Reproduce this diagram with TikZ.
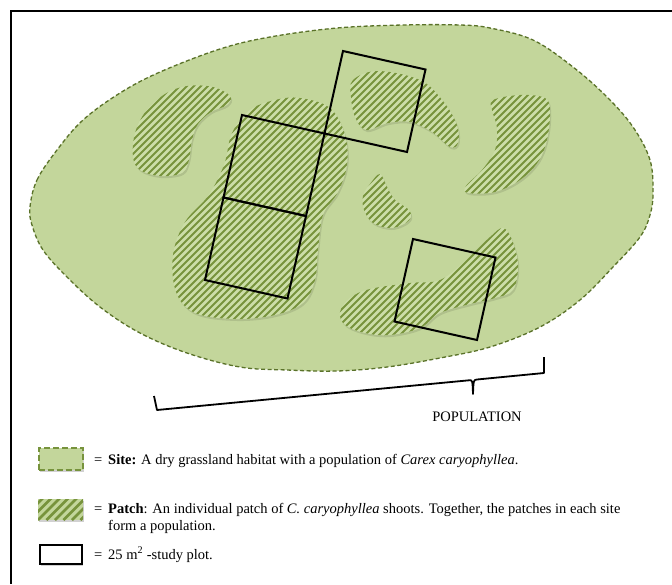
\documentclass[tikz,border=0pt]{standalone}
\usepackage{fontspec}
\setmainfont{Liberation Serif}
\definecolor{sitefill}{HTML}{C3D69B}
\definecolor{siteline}{HTML}{5A7229}
\definecolor{stripecol}{HTML}{77933C}
\definecolor{patchbg}{HTML}{CCDEA8}
\newcommand{\hatchpatch}[1]{%
  \fill[black, opacity=0.10, shift={(1.2,2)}] plot[smooth cycle, tension=0.6] coordinates {#1};
  \begin{scope}
    \clip plot[smooth cycle, tension=0.6] coordinates {#1};
    \fill[patchbg] (120,20) rectangle (560,350);
    \foreach \k in {0,...,130} \draw[stripe] ({-220+7*\k},360) -- ++(360,-360);
  \end{scope}}
\begin{document}
\begin{tikzpicture}[x=1pt, y=-1pt,
  stripe/.style={stripecol, line width=2pt},
  plotline/.style={black, line width=2pt, line join=miter},
  bracket/.style={black, line width=1.8pt, line join=round},
  lbl/.style={inner sep=0pt, font=\fontsize{14.5}{18}\selectfont, text=black},
  swshadow/.style={preaction={fill=black, opacity=0.18, transform canvas={shift={(1pt,-2pt)}}}},
  siteswatch/.style={swshadow, draw=stripecol, fill=sitefill, line width=2pt, dash pattern=on 6pt off 3pt, minimum width=44pt, minimum height=22pt, inner sep=0pt},
  patchswatch/.style={swshadow, fill=sitefill, minimum width=45pt, minimum height=21pt, inner sep=0pt,
    path picture={\foreach \k in {-6,...,8} \draw[stripecol, line width=2.6pt] ([xshift=\k*8.5pt]path picture bounding box.south west) -- ++(30,-30);}},
  plotswatch/.style={swshadow, draw=black, fill=white, line width=2.4pt, minimum width=42pt, minimum height=19pt, inner sep=0pt}
]
\useasboundingbox (0,0) rectangle (672,584);
\fill[white] (0,0) rectangle (672,584);
% frame
\draw[black, line width=2pt] (672,11) -- (11,11) -- (11,584);

% site
\path[fill=sitefill, draw=siteline, line width=1.3pt, dash pattern=on 4pt off 2.5pt]
  plot[smooth cycle, tension=0.6] coordinates {(30,207) (37,180) (57,150) (83,120) (120,93) (160,72) (220,49) (270,37) (337,28) (403,25) (460,25) (490,28) (533,40) (573,67) (607,97) (633,127) (650,160) (653,193) (650,215) (640,237) (613,267) (580,300) (540,327) (490,347) (440,358) (387,367) (337,371) (287,370) (240,367) (187,353) (140,333) (100,307) (67,277) (43,250) (32,225)};

% patches
\hatchpatch{(230,96) (213,87) (187,86) (165,94) (146,111) (135,133) (133,157) (140,170) (160,176) (182,173) (189,160) (192,140) (198,124) (211,112) (227,105)}
\hatchpatch{(300,98) (330,108) (345,135) (347,165) (338,192) (323,215) (318,250) (315,280) (303,303) (275,315) (236,319) (195,313) (176,292) (173,255) (185,222) (208,196) (224,165) (232,133) (250,110) (275,100)}
\hatchpatch{(353,80) (378,71) (420,80) (443,101) (457,125) (458,143) (450,147) (432,132) (410,122) (388,123) (366,130) (355,117) (351,97)}
\hatchpatch{(493,100) (520,95) (545,98) (550,112) (547,140) (538,162) (520,180) (495,192) (468,193) (466,186) (482,170) (495,150) (497,128) (492,110)}
\hatchpatch{(380,174) (387,187) (395,200) (408,209) (411,217) (404,224) (390,228) (373,223) (364,210) (363,196) (370,184)}
\hatchpatch{(340,312) (350,298) (370,289) (410,283) (440,280) (465,261) (490,237) (503,228) (512,240) (518,265) (513,290) (495,298) (470,304) (440,313) (420,328) (390,335) (365,333) (345,325)}

% study plots
\coordinate (p1a) at (343,51);
\coordinate (p1b) at (425.5,69.5);
\coordinate (p1c) at (407,152);
\coordinate (p1d) at (324.5,133.5);
\coordinate (p2a) at (242,115);
\coordinate (p2c) at (306,216);
\coordinate (p2d) at (223.5,197.5);
\coordinate (p3c) at (287.5,298.5);
\coordinate (p3d) at (205,280);
\coordinate (p4a) at (413,239);
\coordinate (p4b) at (495.5,257.5);
\coordinate (p4c) at (477,340);
\coordinate (p4d) at (394.5,321.5);
\draw[plotline] (p1a) -- (p1b) -- (p1c) -- (p1d) -- cycle;
\draw[plotline] (p2a) -- (p1d) -- (p2c) -- (p2d) -- cycle;
\draw[plotline] (p2d) -- (p2c) -- (p3c) -- (p3d) -- cycle;
\draw[plotline] (p4a) -- (p4b) -- (p4c) -- (p4d) -- cycle;

% bracket
\coordinate (b1) at (154,396);
\coordinate (b2) at (157,410);
\coordinate (b3) at (469,380.3);
\coordinate (btip) at (473,394);
\coordinate (b4) at (477,379.5);
\coordinate (b5) at (544,373);
\coordinate (b6) at (544,357);
\draw[bracket] (b1) -- (b2) -- (b3) .. controls (472.5,380) .. (btip) .. controls (473.5,380) .. (b4) -- (b5) -- (b6);
\node[lbl, anchor=base] (pop) at (477,421) {POPULATION};

% legend
\node[siteswatch] (sw1) at (60.5,458.5) {};
\node[patchswatch] (sw2) at (60.5,509.5) {};
\node[plotswatch] (sw3) at (61,554.5) {};
\node[lbl, anchor=base west] (eq1) at (94,464) {=};
\node[lbl, anchor=base west] (t1) at (108,464) {\textbf{Site:} A dry grassland habitat with a population of \textit{Carex caryophyllea}.};
\node[lbl, anchor=base west] (eq2) at (94,513) {=};
\node[lbl, anchor=base west] (t2) at (108,513) {\textbf{Patch}: An individual patch of \textit{C. caryophyllea} shoots. Together, the patches in each site};
\node[lbl, anchor=base west] (t2b) at (108,530) {form a population.};
\node[lbl, anchor=base west] (eq3) at (94,559) {=};
\node[lbl, anchor=base west] (t3) at (108,559) {25 m\textsuperscript{2} -study plot.};
\end{tikzpicture}
\end{document}
